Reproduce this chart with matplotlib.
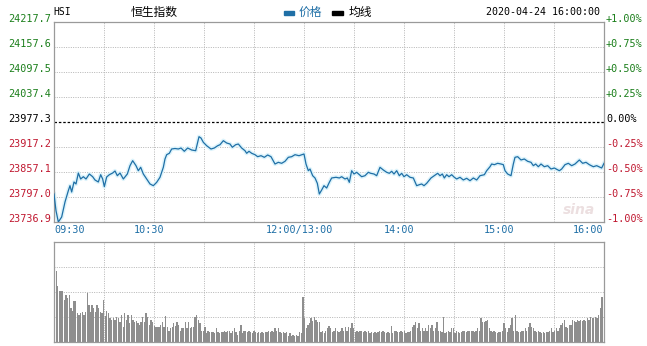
import numpy as np
import matplotlib
matplotlib.use('Agg')
import matplotlib.pyplot as plt
from matplotlib.patches import Rectangle

plt.rcParams['font.family'] = ['DejaVu Sans Mono', 'Noto Sans CJK SC']

# price line, minutes after 09:30 (lunch removed: 12:00 and 13:00 share minute 150)
minutes = [0, 1.2, 2.6, 4.6, 6.6, 8.6, 9.6, 10.6, 12, 13.2, 14.6, 16, 17.6, 19.2, 21.2, 23.2,
           24.6, 26.6, 28, 29.2, 30.2, 31.6, 33.2, 35.2, 36.6, 38, 39.6, 41.6, 44, 45.6, 47.2,
           49.2, 50.6, 52, 53.6, 55.6, 57.6, 59.6, 61.6, 63.6, 65.6, 66.6, 67.6, 69.2, 70.6,
           72.6, 74.6, 76.2, 78.2, 80.2, 82.6, 85, 87, 88.2, 89.6, 91.6, 94.2, 96.2, 98.2,
           99.6, 101.6, 103.6, 105.6, 107, 109, 110.6, 112.6, 114.6, 115.6, 117, 118.6, 120.6,
           122.2, 124.2, 126.2, 128.2, 130.2, 132.6, 134.6, 136.6, 138.6, 140.6, 142.6, 144.6,
           147, 150, 151.2, 152.6, 153.6, 155.2, 156.6, 158, 159.2, 160.6, 162, 163.6, 165.2,
           166.6, 169.2, 171.2, 172.6, 174.6, 176, 177.2, 178.6, 180, 181.6, 183.2, 184.6,
           186.6, 188.6, 190, 192, 193.6, 195.6, 197.6, 199.6, 201.2, 202.6, 204, 205.6, 207.2,
           208.6, 210, 211.6, 213.6, 215.6, 217.6, 219.2, 220.6, 222, 223.6, 226.2, 228.2,
           230.2, 231.6, 233, 234.2, 235.6, 237, 238.6, 240.2, 241.6, 243.6, 245.6, 247.6,
           249.6, 251.6, 253.6, 255.6, 258.2, 259.6, 261.6, 262.6, 264.2, 266.2, 268.2, 269.6,
           270.6, 272.2, 274.2, 275.6, 276.6, 278.2, 280.2, 282.2, 284.2, 286.2, 287.6, 289,
           290.6, 292.2, 294.2, 296.2, 298.2, 300.2, 303.2, 304.6, 306.6, 308.6, 310.6, 312.6,
           315.2, 317.2, 319.2, 321.2, 323.6, 325.6, 327.6, 328.6, 330]
price = [23804.2, 23764.1, 23736.9, 23748.9, 23785.0, 23812.2, 23824.2, 23809.0, 23833.1,
         23828.3, 23854.7, 23840.3, 23845.8, 23840.3, 23852.3, 23845.8, 23837.9, 23833.1,
         23850.6, 23840.3, 23821.8, 23845.1, 23850.6, 23854.7, 23859.5, 23848.2, 23854.7,
         23840.3, 23852.3, 23872.3, 23884.3, 23872.3, 23860.2, 23868.4, 23852.3, 23840.3,
         23828.3, 23824.2, 23832.3, 23844.4, 23868.4, 23888.4, 23898.7, 23902.1, 23912.4,
         23913.6, 23912.4, 23914.8, 23906.9, 23914.8, 23910.0, 23908.3, 23942.0, 23938.8,
         23928.5, 23920.3, 23912.4, 23914.8, 23920.3, 23922.7, 23932.4, 23926.8, 23924.4,
         23916.5, 23922.7, 23924.4, 23914.8, 23908.3, 23902.1, 23906.9, 23902.1, 23898.7,
         23893.9, 23896.3, 23892.4, 23898.0, 23893.9, 23876.3, 23880.4, 23878.0, 23882.8,
         23892.4, 23893.9, 23898.7, 23896.3, 23900.4, 23876.3, 23860.2, 23864.3, 23848.2,
         23842.7, 23829.9, 23804.2, 23813.8, 23824.2, 23818.6, 23832.3, 23842.7, 23844.4,
         23842.7, 23845.8, 23840.3, 23842.7, 23832.3, 23860.2, 23852.3, 23856.4, 23850.6,
         23845.8, 23848.2, 23856.4, 23854.0, 23852.3, 23848.2, 23868.4, 23861.9, 23856.4,
         23854.0, 23858.8, 23852.3, 23860.2, 23848.2, 23854.0, 23845.8, 23850.6, 23844.4,
         23842.7, 23824.2, 23826.6, 23828.3, 23824.2, 23829.9, 23842.7, 23848.2, 23854.0,
         23848.2, 23852.3, 23842.7, 23850.6, 23845.8, 23850.6, 23844.4, 23840.3, 23844.4,
         23837.9, 23842.0, 23836.2, 23842.7, 23837.9, 23848.2, 23850.6, 23860.2, 23869.8,
         23876.3, 23874.7, 23878.0, 23876.3, 23874.7, 23860.2, 23852.3, 23848.2, 23876.3,
         23892.4, 23893.9, 23886.0, 23888.4, 23882.8, 23880.4, 23872.3, 23876.3, 23869.8,
         23876.3, 23869.8, 23872.3, 23864.3, 23866.7, 23860.2, 23864.3, 23874.7, 23878.0,
         23872.3, 23876.3, 23886.0, 23878.0, 23880.4, 23874.7, 23869.8, 23872.3, 23868.4,
         23866.7, 23878.0]

# volume bars (relative units, 20 per grid step), morning then afternoon
vol_am = [57, 45, 41, 41, 41, 34, 38, 35, 38, 27, 25, 33, 33, 23, 22, 23, 24, 22, 24, 39,
          30, 24, 30, 27, 24, 30, 27, 24, 23, 34, 21, 25, 23, 19, 18, 19, 18, 20, 19, 16,
          22, 12, 23, 18, 22, 15, 22, 18, 16, 17, 15, 14, 16, 20, 16, 23, 20, 14, 18, 16,
          13, 12, 12, 12, 14, 16, 12, 21, 12, 9, 11, 12, 15, 13, 16, 14, 9, 11, 11, 16,
          11, 16, 11, 12, 12, 20, 22, 18, 15, 9, 9, 12, 7, 9, 8, 8, 8, 7, 11, 8,
          7, 8, 8, 9, 8, 9, 9, 7, 9, 11, 8, 6, 9, 14, 7, 9, 9, 8, 9, 8,
          7, 9, 8, 7, 8, 7, 8, 7, 8, 8, 9, 8, 9, 8, 11, 9, 11, 8, 7, 8,
          7, 8, 5, 7, 5, 6, 5, 6, 5, 8, 7]
vol_pm = [36, 19, 11, 14, 15, 19, 17, 20, 18, 16, 16, 8, 9, 7, 9, 11, 13, 11, 8, 9,
          11, 9, 8, 9, 11, 9, 12, 9, 12, 11, 15, 11, 8, 9, 8, 9, 9, 8, 9, 8,
          9, 7, 8, 7, 8, 7, 8, 9, 8, 9, 8, 7, 8, 7, 13, 7, 9, 9, 8, 8,
          9, 8, 9, 7, 8, 8, 9, 12, 14, 16, 11, 15, 9, 11, 9, 11, 9, 14, 11, 14,
          9, 11, 16, 9, 9, 8, 20, 7, 8, 9, 8, 11, 11, 7, 9, 8, 7, 8, 9, 9,
          8, 9, 9, 9, 9, 8, 9, 11, 9, 19, 16, 16, 17, 18, 11, 9, 8, 9, 8, 7,
          8, 8, 9, 15, 11, 8, 11, 14, 19, 9, 22, 9, 8, 8, 9, 9, 11, 9, 12, 15,
          12, 11, 9, 8, 9, 8, 7, 8, 7, 8, 8, 9, 11, 8, 9, 11, 9, 11, 14, 15,
          18, 12, 11, 14, 14, 18, 17, 16, 18, 17, 18, 17, 18, 17, 19, 18, 20, 19, 19, 20,
          19, 22, 27, 36]

prev_close = 23977.3
left_vals = [24217.7, 24157.6, 24097.5, 24037.4, 23977.3, 23917.2, 23857.1, 23797.0, 23736.9]
right_labels = ['+1.00%', '+0.75%', '+0.50%', '+0.25%', '0.00%', '-0.25%', '-0.50%', '-0.75%', '-1.00%']
time_ticks = [0, 60, 150, 210, 270, 330]
time_labels = ['09:30', '10:30', '12:00/13:00', '14:00', '15:00', '16:00']
grid_x = [0, 30, 60, 90, 120, 150, 180, 210, 240, 270, 300, 330]

W, H = 647, 346
fig = plt.figure(figsize=(W / 100, H / 100), dpi=100)
fig.patch.set_facecolor('white')

def fx(px):
    return px / W

def fy(py):
    return 1 - py / H

green = '#1b7f1b'
red = '#c01830'
blue = '#1f6fa6'
grid_c = '#b4b4b4'
border_c = '#9a9a9a'
dots = (0, (1, 1.4))

ax = fig.add_axes([fx(54), fy(222), fx(550), 200 / H])
ax.set_xlim(0, 330)
ax.set_ylim(left_vals[-1], left_vals[0])
for v in left_vals[1:-1]:
    if v == prev_close:
        ax.axhline(v, color='black', lw=0.9, ls=(0, (2, 1.5)), zorder=1)
    else:
        ax.axhline(v, color=grid_c, lw=0.7, ls=dots, zorder=1)
for g in grid_x[1:-1]:
    ax.axvline(g, color=grid_c, lw=0.7, ls=dots, zorder=1)

ax.plot(minutes, price, color='#dcf3fb', lw=3.0, solid_joinstyle='round', zorder=2)
ax.plot(minutes, price, color=blue, lw=0.9, zorder=3)

ax.set_xticks([])
ax.set_yticks([])
for s in ax.spines.values():
    s.set_color(border_c)
    s.set_linewidth(0.9)

for v, lab in zip(left_vals, right_labels):
    if v > prev_close:
        c = green
    elif v < prev_close:
        c = red
    else:
        c = 'black'
    ax.annotate('%.1f' % v, xy=(0, v), xycoords=('axes fraction', 'data'),
                xytext=(-3, 3), textcoords='offset pixels', ha='right', va='center',
                fontsize=7.3, color=c, annotation_clip=False)
    ax.annotate(lab, xy=(1, v), xycoords=('axes fraction', 'data'),
                xytext=(2, 3), textcoords='offset pixels', ha='left', va='center',
                fontsize=7.3, color=c, annotation_clip=False)

for t, lab in zip(time_ticks, time_labels):
    if t == 0:
        ha, off = 'left', 0
    elif t == 330:
        ha, off = 'right', -1
    else:
        ha, off = 'center', -5
    ax.annotate(lab, xy=(t, 0), xycoords=('data', 'axes fraction'),
                xytext=(off, -8), textcoords='offset pixels', ha=ha, va='center',
                fontsize=7.3, color=blue, annotation_clip=False)

# watermark
ax.text(0.955, 0.06, 'sina', transform=ax.transAxes, fontsize=10, fontstyle='italic',
        fontweight='bold', color='#ecdfe0', ha='center', va='center',
        family='DejaVu Sans', zorder=1)

# volume panel
axv = fig.add_axes([fx(54), fy(342), fx(550), 100 / H])
vol = vol_am + vol_pm
xv = np.linspace(1.3, 328.8, len(vol))
axv.bar(xv, vol, width=0.8, color='#8e8e8e', linewidth=0, zorder=2)
axv.set_xlim(0, 330)
axv.set_ylim(0, 80)
for v in [20, 40, 60]:
    axv.axhline(v, color=grid_c, lw=0.7, ls=dots, zorder=1)
for g in grid_x[1:-1]:
    axv.axvline(g, color=grid_c, lw=0.7, ls=dots, zorder=1)
axv.set_xticks([])
axv.set_yticks([])
for s in axv.spines.values():
    s.set_color(border_c)
    s.set_linewidth(0.9)

# header
fig.text(fx(53), fy(12), 'HSI', fontsize=7, ha='left', va='center', color='black')
fig.text(fx(154), fy(12), '恒生指数', fontsize=8.5, ha='center', va='center', color='black',
         family=['Noto Sans CJK SC', 'DejaVu Sans'])
fig.patches.append(Rectangle((fx(284), fy(15)), fx(10), 4 / H, transform=fig.transFigure,
                             color=blue, figure=fig))
fig.text(fx(299), fy(12), '价格', fontsize=8.5, ha='left', va='center', color=blue,
         family=['Noto Sans CJK SC', 'DejaVu Sans'])
fig.patches.append(Rectangle((fx(332), fy(15)), fx(11), 4 / H, transform=fig.transFigure,
                             color='black', figure=fig))
fig.text(fx(349), fy(12), '均线', fontsize=8.5, ha='left', va='center', color='black',
         family=['Noto Sans CJK SC', 'DejaVu Sans'])
fig.text(fx(600), fy(12), '2020-04-24 16:00:00', fontsize=7.2, ha='right', va='center',
         color='black')

plt.savefig('out.png', dpi=100)
plt.close()
